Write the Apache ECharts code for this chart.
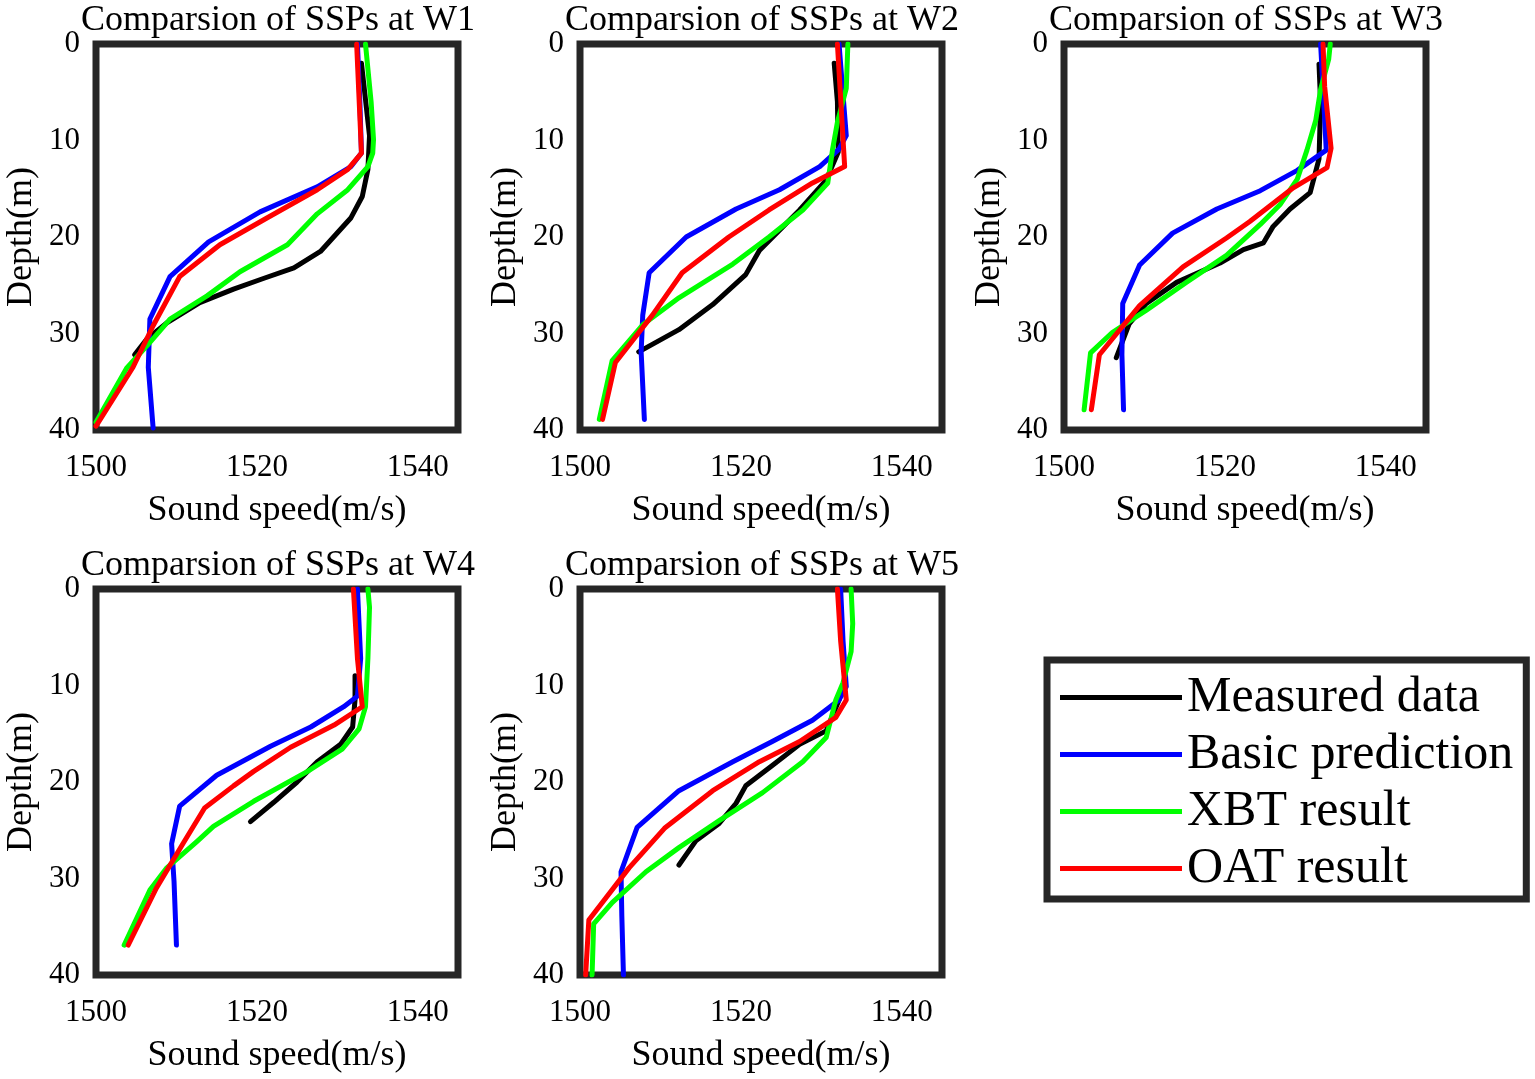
<!DOCTYPE html>
<html>
<head>
<meta charset="utf-8">
<script src="https://cdn.jsdelivr.net/npm/echarts@6/dist/echarts.min.js"></script>
<style>html,body{margin:0;padding:0;background:#fff;}#c{width:1535px;height:1079px;}</style>
</head>
<body>
<div id="c"></div>
<script>
// ---- Data: [sound speed (m/s), depth (m)] ----
const seriesNames = ['Measured data', 'Basic prediction', 'XBT result', 'OAT result'];
const panelTitles = ['Comparsion of SSPs at W1', 'Comparsion of SSPs at W2', 'Comparsion of SSPs at W3', 'Comparsion of SSPs at W4', 'Comparsion of SSPs at W5'];
const xTicks = [1500, 1520, 1540];
const yTicks = [0, 10, 20, 30, 40];

const w1Measured = [[1533,2],[1534,9.5],[1533.8,13],[1533.1,15.8],[1531.7,18],[1527.9,21.5],[1524.6,23.2],[1520.8,24.3],[1517.1,25.4],[1512.9,26.8],[1508.8,28.9],[1506.3,30.6],[1504.8,32.2]];
const w1Basic = [[1532.5,0],[1532.8,6],[1533,11.3],[1531.7,12.7],[1527.5,14.8],[1520.4,17.4],[1514,20.5],[1509.2,24.1],[1506.7,28.5],[1506.5,33.5],[1507.1,39.8]];
const w1XBT = [[1533.5,0],[1534.2,6],[1534.5,9.9],[1534.4,11.3],[1533.8,12.7],[1531.3,15.1],[1527.5,17.6],[1523.8,20.8],[1517.9,23.6],[1513.8,26.1],[1509.2,28.5],[1506.3,31.3],[1503.8,33.6],[1500,39.2]];
const w1OAT = [[1532.4,0],[1533,11.3],[1531.3,13],[1527.5,15.1],[1521.3,18],[1515.4,20.8],[1510.4,24.1],[1507.1,29.2],[1504.6,33.5],[1500,39.6]];

const w2Measured = [[1531.6,2],[1532,6],[1532.1,11.2],[1530.6,14.1],[1527.3,17.2],[1522.3,21.4],[1520.6,23.9],[1516.5,27],[1512.3,29.6],[1507.3,31.9]];
const w2Basic = [[1532.2,0],[1533.1,9.5],[1532.2,10.9],[1529.8,12.7],[1524.8,15.1],[1519.4,17.1],[1513.2,20],[1508.6,23.7],[1507.8,28.1],[1507.6,31.9],[1508,38.9]];
const w2XBT = [[1533.3,0],[1533.1,4.6],[1532,8.1],[1531.4,10.9],[1530.8,14.4],[1527.7,17.2],[1523.5,20],[1519,22.8],[1512.3,26.3],[1507.8,29.1],[1504,32.8],[1502.4,38.9]];
const w2OAT = [[1532,0],[1532.9,12.7],[1528.9,14.4],[1523.5,17.2],[1518.5,20],[1512.7,23.7],[1509,28.1],[1504.4,33],[1502.8,38.9]];

const w3Measured = [[1531.7,2.1],[1531.9,6.1],[1531.7,11.9],[1530.6,15.4],[1528.1,17.1],[1526,18.9],[1524.8,20.6],[1522.3,21.3],[1519.4,22.7],[1514,24.7],[1510.2,26.9],[1508.1,29],[1506.5,32.5]];
const w3Basic = [[1531.9,0],[1532.3,6.1],[1532.6,11],[1529,13.1],[1524.4,15.2],[1519,17.1],[1513.5,19.6],[1509.4,22.9],[1507.3,26.9],[1507.2,32.2],[1507.4,37.9]];
const w3XBT = [[1533.1,0],[1532.9,1.6],[1531.9,4.7],[1531.3,7.9],[1530.2,11],[1529,14],[1526.9,16.6],[1524.4,18.7],[1520.2,21.9],[1515.2,24.7],[1510.2,27.6],[1506,29.9],[1503.3,32],[1502.5,37.9]];
const w3OAT = [[1532.2,0],[1532.4,4.4],[1533.2,10.8],[1532.7,12.8],[1528.5,14.9],[1523.1,18.4],[1520.2,20.1],[1514.8,23.1],[1509.4,27.1],[1504.4,32.2],[1503.4,37.9]];

const w4Measured = [[1532.2,9],[1532.2,11.5],[1531.9,14.3],[1530.4,16.1],[1527.5,17.9],[1525,20],[1522.1,22.1],[1519.2,24.1]];
const w4Basic = [[1532.5,0],[1532.9,7.2],[1532.5,11.1],[1530.8,12.2],[1526.7,14.3],[1521.7,16.3],[1515,19.3],[1510.4,22.5],[1509.4,26.4],[1509.7,30.3],[1510,36.9]];
const w4XBT = [[1533.8,0],[1534,1.9],[1533.8,7.2],[1533.5,12.2],[1532.7,14.5],[1530.6,16.6],[1526.3,18.9],[1519.6,22],[1514.6,24.6],[1512.5,26.2],[1508.8,28.9],[1506.7,31.2],[1503.5,36.9]];
const w4OAT = [[1532,0],[1532.5,7.2],[1533.1,12.2],[1529.6,14.1],[1524.2,16.4],[1519.6,18.9],[1517.1,20.4],[1513.5,22.7],[1510.8,26.4],[1507.5,31],[1504,36.9]];

const w5Measured = [[1532.2,11.5],[1530.6,14.7],[1527.3,16.1],[1523.9,18.3],[1520.6,20.4],[1519.4,22.2],[1517.3,24.3],[1514.4,26.1],[1512.3,28.6]];
const w5Basic = [[1532.4,0],[1532.7,5.4],[1533.1,10.1],[1532.2,11.5],[1528.9,13.6],[1523.9,15.8],[1519,17.9],[1512.3,20.9],[1507.1,24.7],[1505.1,29.3],[1505.2,33.9],[1505.4,40]];
const w5XBT = [[1533.7,0],[1533.9,3.6],[1533.7,6.5],[1532.7,9.7],[1531.8,11.5],[1530.6,15.4],[1527.7,17.9],[1522.7,21.1],[1517.3,24],[1512.3,26.8],[1508.2,29.3],[1504,32.5],[1501.7,34.7],[1501.5,40]];
const w5OAT = [[1532,0],[1532.4,5.4],[1533.1,11.5],[1531.8,13.3],[1527.3,15.8],[1522.3,17.9],[1516.5,20.9],[1510.5,24.8],[1506.1,28.9],[1501.1,34.3],[1500.7,40]];

const panels = [
  [w1Measured, w1Basic, w1XBT, w1OAT],
  [w2Measured, w2Basic, w2XBT, w2OAT],
  [w3Measured, w3Basic, w3XBT, w3OAT],
  [w4Measured, w4Basic, w4XBT, w4OAT],
  [w5Measured, w5Basic, w5XBT, w5OAT]
];

// ---- Layout / style ----
const FONT = 'Liberation Serif';
const colors = ['#000000', '#0000ff', '#00ff00', '#ff0000'];
const gridPos = [
  {left: 96, top: 44},
  {left: 580, top: 44},
  {left: 1064, top: 44},
  {left: 96, top: 589},
  {left: 580, top: 589}
];
const GW = 362, GH = 386;

const grids = [], xAxes = [], yAxes = [], titles = [], series = [];
panels.forEach((p, i) => {
  const g = gridPos[i];
  grids.push({left: g.left, top: g.top, width: GW, height: GH, show: true,
    borderColor: '#262626', borderWidth: 7, backgroundColor: '#fff', containLabel: false});
  titles.push({text: panelTitles[i], left: g.left + GW / 2 - 4, top: g.top - 46, textAlign: 'center',
    textStyle: {fontFamily: FONT, fontSize: 36, fontWeight: 'normal', color: '#000'}});
  xAxes.push({type: 'value', gridIndex: i, min: 1500, max: 1545, interval: 20,
    name: 'Sound speed(m/s)', nameLocation: 'middle', nameGap: 63,
    nameTextStyle: {fontFamily: FONT, fontSize: 36, color: '#000'},
    axisLine: {show: false}, axisTick: {show: false}, splitLine: {show: false},
    axisLabel: {margin: 22, fontFamily: FONT, fontSize: 31, color: '#000',
      formatter: v => xTicks.indexOf(v) >= 0 ? String(v) : ''}});
  yAxes.push({type: 'value', gridIndex: i, min: 0, max: 40, interval: 10, inverse: true,
    name: 'Depth(m)', nameLocation: 'middle', nameGap: 56,
    nameTextStyle: {fontFamily: FONT, fontSize: 36, color: '#000'},
    axisLine: {show: false}, axisTick: {show: false}, splitLine: {show: false},
    axisLabel: {margin: 16, fontFamily: FONT, fontSize: 31, color: '#000',
      formatter: v => yTicks.indexOf(v) >= 0 ? String(v) : ''}});
  p.forEach((data, k) => {
    series.push({type: 'line', name: seriesNames[k], xAxisIndex: i, yAxisIndex: i,
      data: data, showSymbol: false, symbol: 'none', smooth: false, z: 3 + k,
      color: colors[k],
      lineStyle: {color: colors[k], width: 5, join: 'round', cap: 'round'},
      itemStyle: {color: colors[k]}, animation: false});
  });
});

const chart = echarts.init(document.getElementById('c'));
chart.setOption({
  animation: false,
  backgroundColor: '#fff',
  title: titles,
  grid: grids,
  xAxis: xAxes,
  yAxis: yAxes,
  legend: {
    data: seriesNames, orient: 'vertical', left: 1047, top: 660,
    icon: 'rect', itemWidth: 122, itemHeight: 5, itemGap: 0, itemTextGap: 16,
    padding: [9, 13, 2, 13], borderColor: '#262626', borderWidth: 7, backgroundColor: '#fff',
    textStyle: {fontFamily: FONT, fontSize: 50, color: '#000', lineHeight: 57}
  },
  series: series
});
</script>
</body>
</html>
